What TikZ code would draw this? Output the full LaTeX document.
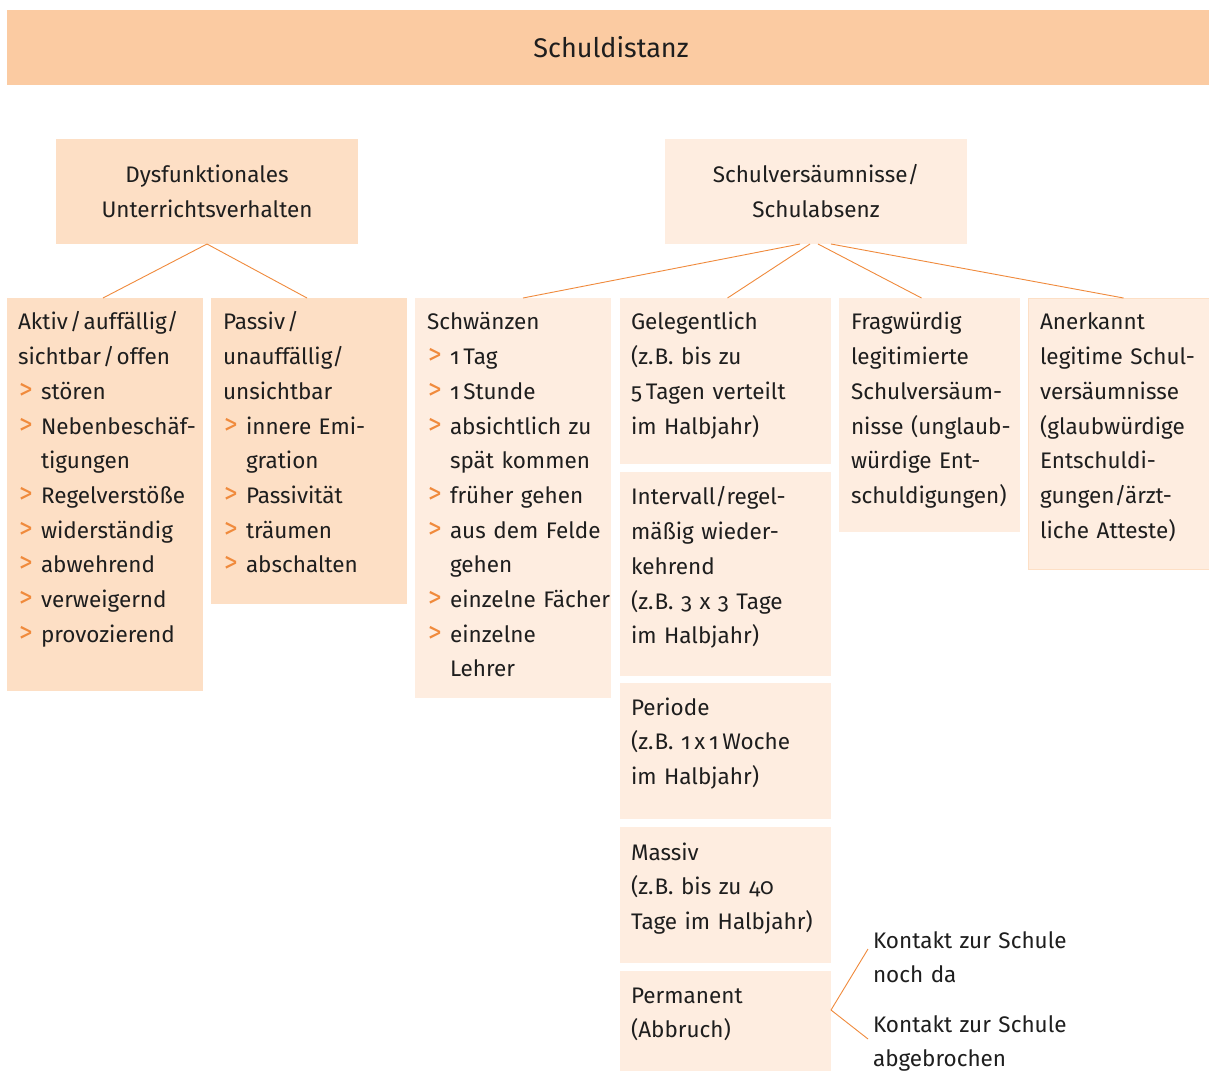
\documentclass[tikz,border=0pt]{standalone}
\usepackage{fontspec}
\usepackage{graphicx}
\setmainfont{Fira Sans}[Numbers=OldStyle]
\definecolor{titlefill}{HTML}{FBCBA2}
\definecolor{darkfill}{HTML}{FDDFC5}
\definecolor{lightfill}{HTML}{FEEDE0}
\definecolor{lineor}{HTML}{F08A3C}
\definecolor{txt}{HTML}{1E1E1E}
\newcommand{\bl}{\makebox[23pt][l]{\hspace{1pt}\textcolor{lineor}{\scalebox{1.2}[1.3]{>}}}}
\newcommand{\ind}{\hspace*{23pt}}
\begin{document}
\begin{tikzpicture}[x=1pt,y=-1pt,
  panel/.style={inner sep=0pt, outer sep=0pt, anchor=north west, draw=none},
  txtblock/.style={inner sep=0pt, outer sep=0pt, anchor=north west, text width=230pt, align=left,
     text=txt, font=\fontsize{22.5}{34.7}\selectfont},
  ctrblock/.style={inner sep=0pt, outer sep=0pt, anchor=north, align=center,
     text=txt, font=\fontsize{22.5}{34.7}\selectfont},
  con/.style={draw=lineor, line width=0.9pt}]
\useasboundingbox (0,0) rectangle (1209,1071);
\fill[white] (0,0) rectangle (1209,1071);
% title
\node[panel, fill=titlefill, minimum width=1202, minimum height=75] (title) at (7,10) {};
\node[ctrblock, font=\fontsize{27}{34.7}\selectfont] (titletxt) at (611,58-24.3) {\strut Schuldistanz};
% level 1
\node[panel, fill=darkfill, minimum width=302, minimum height=105] (dys) at (56,139) {};
\node[ctrblock] (dystxt) at (207,183-24.3) {\strut Dysfunktionales\\Unterrichtsverhalten};
\node[panel, fill=lightfill, minimum width=302, minimum height=105] (sv) at (665,139) {};
\node[ctrblock] (svtxt) at (816,183-24.3) {\strut Schulversäumnisse/\\Schulabsenz};
% level 2 boxes
\node[panel, fill=darkfill, minimum width=196, minimum height=393] (aktiv) at (7,298) {};
\node[panel, fill=darkfill, minimum width=196, minimum height=306] (passiv) at (211,298) {};
\node[panel, fill=lightfill, minimum width=196, minimum height=400] (schw) at (415,298) {};
\node[panel, fill=lightfill, minimum width=211, minimum height=166] (geleg) at (620,298) {};
\node[panel, fill=lightfill, minimum width=211, minimum height=204] (interv) at (620,472) {};
\node[panel, fill=lightfill, minimum width=211, minimum height=136] (period) at (620,683) {};
\node[panel, fill=lightfill, minimum width=211, minimum height=136] (massiv) at (620,827) {};
\node[panel, fill=lightfill, minimum width=211, minimum height=100] (perm) at (620,971) {};
\node[panel, fill=lightfill, minimum width=181, minimum height=234] (frag) at (839,298) {};
\node[panel, fill=lightfill, draw=darkfill, line width=0.8pt, minimum width=181, minimum height=271] (aner) at (1028,298) {};
% texts
\node[txtblock] (aktivtxt) at (18,330-24.3) {\strut Aktiv\kern2pt/\kern2pt auffällig/\\sichtbar\kern2pt/\kern2pt offen\\
\bl stören\\\bl Nebenbeschäf-\\\ind tigungen\\\bl Regelverstöße\\\bl widerständig\\\bl abwehrend\\\bl verweigernd\\\bl provozierend};
\node[txtblock] (passivtxt) at (223,330-24.3) {\strut Passiv\kern2pt/\\unauffällig/\\unsichtbar\\
\bl innere Emi-\\\ind gration\\\bl Passivität\\\bl träumen\\\bl abschalten};
\node[txtblock] (schwtxt) at (427,330-24.3) {\strut Schwänzen\\\bl 1\,Tag\\\bl 1\,Stunde\\\bl absichtlich zu\\\ind spät kommen\\
\bl früher gehen\\\bl aus dem Felde\\\ind gehen\\\bl einzelne Fächer\\\bl einzelne\\\ind Lehrer};
\node[txtblock] (gelegtxt) at (631,330-24.3) {\strut Gelegentlich\\(z.\kern1pt B. bis zu\\5\,Tagen verteilt\\im Halbjahr)};
\node[txtblock] (intervtxt) at (631,505-24.3) {\strut Intervall/regel-\\mäßig wieder-\\kehrend\\(z.\kern1pt B. 3 x 3 Tage\\im Halbjahr)};
\node[txtblock] (periodtxt) at (631,715-24.3) {\strut Periode\\(z.\kern1pt B. 1\,x\,1\,Woche\\im Halbjahr)};
\node[txtblock] (massivtxt) at (631,860-24.3) {\strut Massiv\\(z.\kern1pt B. bis zu 40\\Tage im Halbjahr)};
\node[txtblock] (permtxt) at (631,1003-24.3) {\strut Permanent\\(Abbruch)};
\node[txtblock] (fragtxt) at (851,330-24.3) {\strut Fragwürdig\\legitimierte\\Schulversäum-\\nisse (unglaub-\\würdige Ent-\\schuldigungen)};
\node[txtblock] (anertxt) at (1040,330-24.3) {\strut Anerkannt\\legitime Schul-\\versäumnisse\\(glaubwürdige\\Entschuldi-\\gungen/ärzt-\\liche Atteste)};
\node[txtblock] (k1txt) at (873,948-24.3) {\strut Kontakt zur Schule\\noch da};
\node[txtblock] (k2txt) at (873,1032-24.3) {\strut Kontakt zur Schule\\abgebrochen};
\coordinate (k1) at (868,949);
\coordinate (k2) at (868,1039);
% connectors
\draw[con] (dys.south) -- ([xshift=-2pt]aktiv.north);
\draw[con] (dys.south) -- ([xshift=-2pt]passiv.north);
\draw[con] ([xshift=-16pt]sv.south) -- ([xshift=10pt]schw.north);
\draw[con] ([xshift=-6pt]sv.south) -- ([xshift=2pt]geleg.north);
\draw[con] ([xshift=2pt]sv.south) -- ([xshift=-8pt]frag.north);
\draw[con] ([xshift=15pt]sv.south) -- ([xshift=5pt]aner.north);
\draw[con] ([yshift=11pt]perm.east) -- (k1);
\draw[con] ([yshift=11pt]perm.east) -- (k2);
\end{tikzpicture}
\end{document}
